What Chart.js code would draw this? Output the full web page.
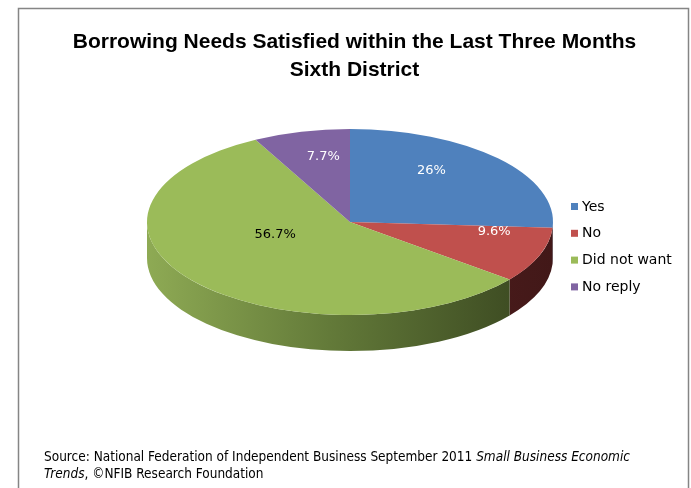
<!DOCTYPE html>
<html>
<head>
<meta charset="utf-8">
<script src="https://cdn.jsdelivr.net/npm/chart.js@4"></script>
<style>
    html, body { margin: 0; padding: 0; background: #fff; }
    #wrap { width: 691px; height: 488px; position: relative; }
</style>
</head>
<body>
<div id="wrap"><canvas id="pieChart"></canvas></div>
<script>
// Data
const categories = ['Yes', 'No', 'Did not want', 'No reply'];
const shares = [26, 9.6, 56.7, 7.7];
const titleLines = ['Borrowing Needs Satisfied within the Last Three Months', 'Sixth District'];

const sliceColors = ['#4f81bd', '#c0504d', '#9bbb59', '#8064a2'];
const labelColors = ['#ffffff', '#ffffff', '#000000', '#ffffff'];
const labelRadius = [0.55, 0.76, 0.48, 0.55];

// where the flattened pie goes on the page
const CX = 350, CY = 222, RX = 203, RY = 93, DEPTH = 36;

function sideFill(ctx, i) {
    const g = ctx.createLinearGradient(CX - RX, 0, CX + RX, 0);
    if (i === 2) {
        g.addColorStop(0, '#8eaa54');
        g.addColorStop(0.45, '#637a39');
        g.addColorStop(1, '#36431e');
    } else if (i === 1) {
        g.addColorStop(0, '#6a2828');
        g.addColorStop(1, '#421818');
    } else if (i === 0) {
        g.addColorStop(0, '#35598a');
        g.addColorStop(1, '#24405f');
    } else {
        g.addColorStop(0, '#5a4675');
        g.addColorStop(1, '#3e3052');
    }
    return g;
}

const pie3d = {
    id: 'pie3d',
    beforeDatasetsDraw(chart) {
        const ctx = chart.ctx;
        const arcs = chart.getDatasetMeta(0).data;
        // side wall, front half only
        arcs.forEach((arc, i) => {
            const lo = Math.max(arc.startAngle, 0);
            const hi = Math.min(arc.endAngle, Math.PI);
            if (hi <= lo) return;
            ctx.save();
            ctx.beginPath();
            ctx.ellipse(CX, CY, RX, RY, 0, lo, hi);
            ctx.lineTo(CX + RX * Math.cos(hi), CY + DEPTH + RY * Math.sin(hi));
            ctx.ellipse(CX, CY + DEPTH, RX, RY, 0, hi, lo, true);
            ctx.closePath();
            ctx.fillStyle = sideFill(ctx, i);
            ctx.fill();
            ctx.restore();
        });
        // squash the circular pie into the top face
        const a0 = arcs[0];
        const R = a0.outerRadius;
        ctx.save();
        ctx.translate(CX, CY);
        ctx.scale(RX / R, RY / R);
        ctx.translate(-a0.x, -a0.y);
    },
    afterDatasetsDraw(chart) {
        const ctx = chart.ctx;
        ctx.restore();
        const arcs = chart.getDatasetMeta(0).data;

        // value labels
        ctx.save();
        ctx.font = "13px 'DejaVu Sans', sans-serif";
        ctx.textAlign = 'center';
        ctx.textBaseline = 'middle';
        arcs.forEach((arc, i) => {
            const m = (arc.startAngle + arc.endAngle) / 2;
            const f = labelRadius[i];
            const x = CX + f * RX * Math.cos(m);
            const y = CY + f * RY * Math.sin(m) - 16;
            ctx.fillStyle = labelColors[i];
            ctx.fillText(shares[i] + '%', x, y);
        });
        ctx.restore();
    },
    afterDraw(chart) {
        const ctx = chart.ctx;
        ctx.save();

        // legend
        ctx.font = "14px 'DejaVu Sans', sans-serif";
        ctx.textBaseline = 'middle';
        categories.forEach((c, i) => {
            const y = 207 + i * 26.8;
            ctx.fillStyle = sliceColors[i];
            ctx.fillRect(571, y - 4, 7, 7);
            ctx.fillStyle = '#000';
            ctx.fillText(c, 582, y);
        });

        // source note
        ctx.fillStyle = '#000';
        const reg = "13.5px 'DejaVu Sans Condensed', 'DejaVu Sans', sans-serif";
        const ital = "italic 13.5px 'DejaVu Sans Condensed', 'DejaVu Sans', sans-serif";
        let x = 44;
        ctx.font = reg;
        const s1 = 'Source: National Federation of Independent Business September 2011 ';
        ctx.fillText(s1, x, 457);
        x += ctx.measureText(s1).width;
        ctx.font = ital;
        ctx.fillText('Small Business Economic', x, 457);
        x = 44;
        ctx.fillText('Trends', x, 474);
        x += ctx.measureText('Trends').width;
        ctx.font = reg;
        ctx.fillText(', \u00A9NFIB Research Foundation', x, 474);

        // frame
        ctx.strokeStyle = '#858585';
        ctx.lineWidth = 1.5;
        ctx.strokeRect(18.5, 8.5, 670, 500);
        ctx.restore();
    }
};

const ctx = document.getElementById('pieChart').getContext('2d');
new Chart(ctx, {
    type: 'pie',
    data: {
        labels: categories,
        datasets: [{
            data: shares,
            backgroundColor: sliceColors,
            borderWidth: 0
        }]
    },
    options: {
        responsive: true,
        maintainAspectRatio: false,
        animation: false,
        events: [],
        layout: {
            padding: { left: 18, top: 8, right: 0, bottom: 60 }
        },
        plugins: {
            legend: { display: false },
            tooltip: { enabled: false },
            title: {
                display: true,
                text: titleLines,
                color: '#000',
                font: {
                    family: "'Liberation Sans Narrow', 'Liberation Sans', Arial, sans-serif",
                    size: 21,
                    weight: 'bold',
                    lineHeight: 1.35
                },
                padding: { top: 20, bottom: 10 }
            }
        }
    },
    plugins: [pie3d]
});
</script>
</body>
</html>
